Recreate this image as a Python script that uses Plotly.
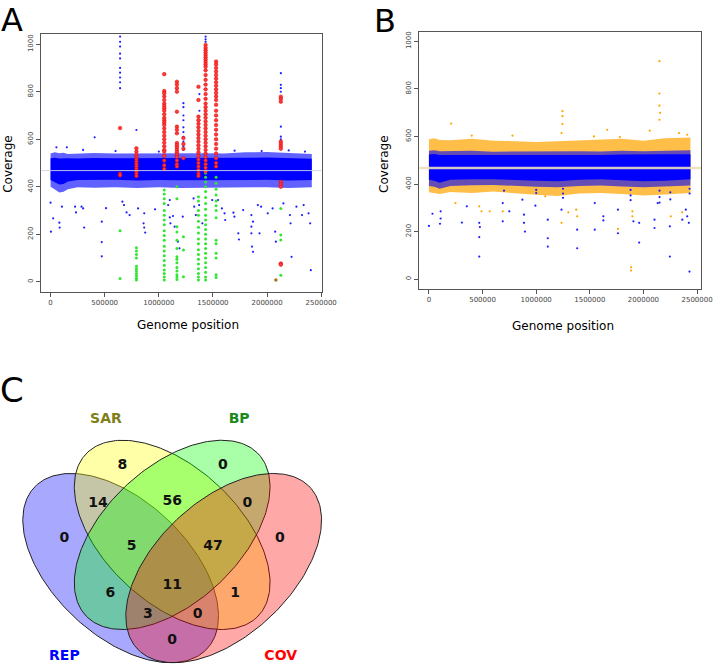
import numpy as np
import plotly.graph_objects as go

W, H = 728, 665

# ---------------- panel A : coverage, coloured by call ----------------
band_a_x = [0, 40000, 80000, 120000, 160000, 250000, 400000, 600000, 800000, 1000000,
            1200000, 1400000, 1600000, 1800000, 2000000, 2200000, 2413000]
band_a_top_outer = [540, 545, 541, 543, 538, 540, 542, 540, 541, 540, 542, 541, 540, 545, 546, 542, 538]
band_a_bot_outer = [400, 388, 376, 379, 390, 398, 396, 398, 395, 398, 395, 396, 398, 397, 398, 395, 398]
band_a_top_inner = [520, 522, 519, 521, 520, 519, 521, 520, 520, 519, 521, 520, 519, 522, 523, 520, 518]
band_a_bot_inner = [428, 420, 410, 412, 422, 428, 427, 429, 426, 428, 427, 427, 428, 428, 429, 426, 428]
mean_a = 468

blue_a_x = [0, 24000, 81000, 84000, 3000, 105000, 226000, 235000, 286000, 301000, 310000,
            473000, 473000, 473000, 512000, 663000, 678000, 702000, 730000, 808000, 859000,
            865000, 874000, 865000, 965000, 1101000, 1086000, 1101000, 1107000, 1146000,
            1131000, 1176000, 1191000, 1221000, 1321000, 1327000, 1342000, 1372000, 1402000,
            1493000, 1547000, 1583000, 1607000, 1613000, 1689000, 1698000, 1734000, 1740000,
            1779000, 1855000, 1870000, 1855000, 1855000, 1861000, 1870000, 1915000, 1930000,
            1945000, 2006000, 2051000, 2075000, 2081000, 2151000, 2211000, 2217000, 2226000,
            2271000, 2338000, 2383000, 2398000, 2404000, 2323000,
            407000, 54000, 150000, 793000, 300000, 600000, 1000000, 1700000, 1950000, 2200000,
            2350000, 1375000, 1375000, 1375000, 1432000, 1432000, 1432000, 1529000]
blue_a_y = [333, 267, 249, 228, 211, 316, 316, 292, 316, 309, 228,
            253, 167, 107, 310, 337, 323, 292, 281, 309, 246,
            228, 207, 288, 305, 344, 323, 271, 246, 232,
            277, 169, 141, 274, 351, 316, 281, 323, 246,
            344, 344, 309, 288, 260, 291, 274, 204, 178,
            302, 281, 253, 232, 204, 148, 126, 323, 204,
            316, 288, 309, 211, 169, 330, 281, 246, 105,
            316, 323, 288, 246, 49, 281,
            608, 566, 566, 639, 555, 550, 548, 552, 550, 553,
            548, 790, 720, 680, 1032, 1020, 1010, 925]

# vertical runs of points (one x, many coverages)
blue_col_a_x = [642000, 1227000, 2127000]
blue_col_a_y = [[1032, 1010, 990, 960, 940, 900, 880, 860, 840, 815],
                [752, 735, 700, 680, 650, 630, 610, 590, 570, 555],
                [878, 829, 815, 800, 653, 611, 600]]

red_col_x = [642000, 793000, 1050000, 1167000, 1227000, 1366000, 1432000, 1529000, 2127000]
red_col_y = [[647, 455, 448],
             [562, 548, 535, 525, 515, 505, 495, 485, 475, 465, 455, 445],
             [874, 803, 794, 780, 765, 750, 740, 730, 720, 705, 690, 680, 670, 660, 645, 630,
              615, 600, 585, 570, 555, 548, 530, 510, 490, 475],
             [842, 830, 815, 800, 716, 653, 640, 625, 584, 575, 565, 555, 545, 535, 525, 510, 495, 485],
             [605, 580, 560, 520],
             [821, 765, 695, 680, 665, 650, 635, 620, 605, 590, 575, 560, 545, 530, 515, 500, 485,
              470, 455, 445],
             [997, 985, 975, 965, 955, 945, 935, 925, 915, 905, 890, 870, 850, 830, 810, 790, 770,
              750, 735, 720, 705, 690, 675, 660, 645, 630, 615, 600, 585, 570, 555, 540, 525, 510,
              495, 480, 465],
             [927, 915, 900, 885, 870, 855, 840, 825, 810, 795, 780, 765, 745, 720, 700, 680, 660,
              640, 620, 600, 580, 560, 540, 520, 500, 485],
             [779, 770, 758, 590, 580, 570, 560, 420, 410, 400, 77, 72]]

green_col_x = [642000, 793000, 1050000, 1167000, 1227000, 1366000, 1432000, 1529000, 2127000]
green_col_y = [[215, 14],
               [143, 130, 115, 100, 65, 55, 45, 35, 25, 15, 8],
               [386, 370, 350, 330, 300, 280, 260, 240, 215, 195, 175, 150, 130, 110, 90, 70, 50, 35, 20, 8],
               [400, 350, 232, 210, 175, 140, 105, 95, 80, 60, 45, 30, 20, 10],
               [190, 134, 21],
               [358, 340, 300, 280, 255, 230, 205, 180, 160, 135, 115, 95, 75, 55, 35, 20, 8],
               [480, 458, 440, 420, 400, 380, 355, 330, 305, 280, 260, 240, 220, 200, 180, 160, 140,
                120, 100, 80, 60, 40, 20, 8],
               [440, 415, 390, 365, 340, 320, 300, 270, 175, 160, 120, 100, 30, 18],
               [309, 197, 176, 28]]

brown_a_x = [2081000]
brown_a_y = [7]

# ---------------- panel B : coverage, coloured by second call ----------------
band_b_x = [0, 50000, 100000, 200000, 400000, 600000, 800000, 1000000, 1200000, 1400000,
            1600000, 1800000, 2000000, 2200000, 2438000]
band_b_top_orange = [588, 592, 585, 584, 590, 582, 580, 576, 580, 584, 586, 590, 582, 592, 595]
band_b_bot_orange = [365, 362, 358, 366, 362, 368, 360, 355, 350, 360, 362, 358, 352, 356, 362]
band_b_top_outer = [540, 542, 538, 538, 540, 536, 537, 535, 536, 538, 537, 540, 538, 541, 542]
band_b_bot_outer = [392, 388, 380, 392, 395, 396, 392, 388, 386, 392, 394, 390, 386, 388, 394]
band_b_top_inner = [524, 526, 522, 522, 523, 521, 522, 520, 521, 522, 522, 524, 523, 525, 525]
band_b_bot_inner = [418, 414, 405, 418, 420, 420, 418, 414, 412, 418, 420, 416, 412, 414, 420]
mean_b = 467

blue_b_x = [0, 33000, 103000, 109000, 109000, 307000, 353000, 469000, 475000, 469000, 469000,
            688000, 688000, 749000, 871000, 886000, 886000, 895000, 992000, 1108000, 1108000,
            1108000, 1236000, 1382000, 1382000, 1546000, 1546000, 1626000, 1626000, 1762000,
            1762000, 1906000, 1960000, 1960000, 2103000, 2103000, 2133000, 2246000, 2246000,
            2362000, 2408000, 2423000, 2429000, 2395000,
            1250000, 1250000, 1250000, 1880000, 1880000, 1880000, 2150000, 2150000, 2150000,
            2250000, 2250000, 1000000, 1000000, 700000, 2430000, 2430000]
blue_b_y = [224, 275, 233, 255, 285, 238, 306, 237, 219, 177, 95,
            320, 243, 285, 334, 271, 237, 200, 309, 250, 172,
            137, 292, 208, 130, 320, 208, 264, 247, 193,
            292, 243, 154, 237, 215, 250, 320, 222, 95,
            250, 264, 237, 32, 292,
            380, 360, 342, 375, 352, 332, 372, 345, 322, 365, 335, 375, 362, 372, 380, 360]

orange_b_x = [207000, 1245000, 1245000, 1245000, 1236000, 2149000, 2149000, 2149000, 2155000,
              2149000, 2058000, 1884000, 1884000,
              490000, 469000, 688000, 1084000, 1236000, 1382000, 1373000, 1762000, 1897000,
              1897000, 2255000, 2362000, 247000, 566000, 1300000,
              1662000, 1538000, 779000, 399000, 2408000, 2331000, 1780000]
orange_b_y = [654, 706, 685, 652, 614, 916, 780, 729, 699, 670, 624, 36, 50,
              285, 306, 285, 348, 237, 264, 292, 211, 285, 264, 264, 281, 320, 285, 281,
              628, 600, 603, 603, 607, 614, 597]

# ---------------- panel C : Venn diagram of the four calls ----------------
venn_sets = ["REP", "SAR", "BP", "COV"]
venn_set_colours = ["#0000ff", "#7f7f1a", "#1a8a1a", "#ff0000"]
venn_counts = [8, 0, 14, 56, 0, 0, 5, 47, 0, 6, 11, 1, 3, 0, 0]

# layout / geometry (not data)
ell_centres = [(0.35, 0.47), (0.50, 0.57), (0.50, 0.57), (0.65, 0.47)]
ell_angles = [-45, -45, 45, 45]
ell_fill = ["rgba(0,0,255,0.34)", "rgba(255,255,0,0.34)", "rgba(0,255,0,0.34)", "rgba(255,0,0,0.34)"]
count_pos = [(0.355, 0.778), (0.648, 0.778), (0.284, 0.665), (0.500, 0.670), (0.719, 0.665),
             (0.186, 0.560), (0.382, 0.534), (0.619, 0.534), (0.814, 0.560), (0.320, 0.394),
             (0.500, 0.419), (0.683, 0.394), (0.429, 0.329), (0.574, 0.329), (0.500, 0.253)]
label_pos = [(0.186, 0.205), (0.307, 0.918), (0.695, 0.918), (0.816, 0.205)]


def paper(px, py):
    return px / W, 1 - py / H


def col_points(xs, ys):
    ox, oy = [], []
    for x, col in zip(xs, ys):
        ox += [x] * len(col)
        oy += col
    return ox, oy


def band(fig, bx, top, bot, colour, xa, ya):
    fig.add_trace(go.Scatter(x=bx + bx[::-1], y=top + bot[::-1], fill="toself",
                             fillcolor=colour, line=dict(width=0), mode="lines",
                             hoverinfo="skip", xaxis=xa, yaxis=ya))


fig = go.Figure()

# A
band(fig, band_a_x, band_a_top_outer, band_a_bot_outer, "rgba(0,0,255,0.62)", "x", "y")
band(fig, band_a_x, band_a_top_inner, band_a_bot_inner, "rgb(0,0,255)", "x", "y")
fig.add_trace(go.Scatter(x=blue_a_x, y=blue_a_y, mode="markers", xaxis="x", yaxis="y",
                         marker=dict(color="#2020ff", size=2.2)))
bx, by = col_points(blue_col_a_x, blue_col_a_y)
fig.add_trace(go.Scatter(x=bx, y=by, mode="markers", xaxis="x", yaxis="y",
                         marker=dict(color="#2020ff", size=2.2)))
gx, gy = col_points(green_col_x, green_col_y)
fig.add_trace(go.Scatter(x=gx, y=gy, mode="markers", xaxis="x", yaxis="y",
                         marker=dict(color="#33e633", size=3)))
rx, ry = col_points(red_col_x, red_col_y)
fig.add_trace(go.Scatter(x=rx, y=ry, mode="markers", xaxis="x", yaxis="y",
                         marker=dict(color="#ff3838", size=3.6,
                                     line=dict(color="#e00000", width=0.5))))
fig.add_trace(go.Scatter(x=brown_a_x, y=brown_a_y, mode="markers", xaxis="x", yaxis="y",
                         marker=dict(color="#a07828", size=3.5)))

# B
band(fig, band_b_x, band_b_top_orange, band_b_bot_orange, "rgba(255,165,0,0.72)", "x2", "y2")
band(fig, band_b_x, band_b_top_outer, band_b_bot_outer, "rgba(0,0,255,0.6)", "x2", "y2")
band(fig, band_b_x, band_b_top_inner, band_b_bot_inner, "rgb(0,0,255)", "x2", "y2")
fig.add_trace(go.Scatter(x=orange_b_x, y=orange_b_y, mode="markers", xaxis="x2", yaxis="y2",
                         marker=dict(color="#ffa500", size=2.2)))
fig.add_trace(go.Scatter(x=blue_b_x, y=blue_b_y, mode="markers", xaxis="x2", yaxis="y2",
                         marker=dict(color="#2020ff", size=2.2)))

# C
t = np.linspace(0, 2 * np.pi, 240)
for (cx, cy), ang, fc in zip(ell_centres, ell_angles, ell_fill):
    c, s = np.cos(np.radians(ang)), np.sin(np.radians(ang))
    ex = cx + 0.35 * np.cos(t) * c - 0.20 * np.sin(t) * s
    ey = cy + 0.35 * np.cos(t) * s + 0.20 * np.sin(t) * c
    fig.add_trace(go.Scatter(x=ex, y=ey, fill="toself", fillcolor=fc, mode="lines",
                             line=dict(color="#222222", width=1), hoverinfo="skip",
                             xaxis="x3", yaxis="y3"))
fig.add_trace(go.Scatter(x=[p[0] for p in count_pos], y=[p[1] for p in count_pos],
                         text=[str(v) for v in venn_counts], mode="text", xaxis="x3", yaxis="y3",
                         textfont=dict(family="DejaVu Sans", size=14, color="#111111", weight="bold")))
fig.add_trace(go.Scatter(x=[p[0] for p in label_pos], y=[p[1] for p in label_pos],
                         text=venn_sets, mode="text", xaxis="x3", yaxis="y3",
                         textfont=dict(family="DejaVu Sans", size=14, color=venn_set_colours,
                                       weight="bold")))

x_ticks = [0, 500000, 1000000, 1500000, 2000000, 2500000]
y_ticks = [0, 200, 400, 600, 800, 1000]
tickfont = dict(family="DejaVu Sans", size=7, color="#444444")
common_x = dict(tickvals=x_ticks, ticktext=[str(v) for v in x_ticks], ticks="outside", ticklen=4,
                tickcolor="#555555", showline=True, linecolor="#555555", mirror=True,
                showgrid=False, zeroline=False, tickfont=tickfont)
common_y = dict(tickvals=y_ticks, ticktext=[str(v) for v in y_ticks], ticks="outside", ticklen=4,
                tickcolor="#555555", showline=True, linecolor="#555555", mirror=True,
                showgrid=False, zeroline=False, tickfont=tickfont, tickangle=-90)

x0, y0 = paper(41.7, 292)
x1, y1 = paper(328.3, 34)
bx0, by0 = paper(428, 288.7)
bx1, by1 = paper(715.7, 31.7)

fig.update_layout(
    width=W, height=H, margin=dict(l=0, r=0, t=0, b=0),
    paper_bgcolor="white", plot_bgcolor="white", showlegend=False,
    font=dict(family="DejaVu Sans"),
    xaxis=dict(domain=[x0, x1], range=[-90000, 2503000], anchor="y", **common_x),
    yaxis=dict(domain=[y0, y1], range=[-43, 1043], anchor="x", **common_y),
    xaxis2=dict(domain=[bx0, bx1], range=[-91000, 2536000], anchor="y2", **common_x),
    yaxis2=dict(domain=[by0, by1], range=[-40, 1040], anchor="x2", **common_y),
    xaxis3=dict(domain=[0, 0.5], range=[-0.0014, 1.0368], visible=False, anchor="y3"),
    yaxis3=dict(domain=[0, 325 / 665], range=[0.1781, 1.157], visible=False, anchor="x3"),
)

fig.add_shape(type="line", xref="x domain", yref="y", x0=0, x1=1, y0=mean_a, y1=mean_a,
              line=dict(color="rgba(205,212,235,0.9)", width=1), layer="above")
fig.add_shape(type="line", xref="x2 domain", yref="y2", x0=0, x1=1, y0=mean_b, y1=mean_b,
              line=dict(color="rgba(236,222,190,0.9)", width=2.5), layer="above")

notes = [("A", 12, 20, 32, 0), ("B", 393.5, 20.5, 32, 0), ("C", 12, 390, 34, 0),
         ("Coverage", 8, 164, 12, -90), ("Coverage", 392, 164, 12, -90),
         ("Genome position", 192, 325, 12, 0), ("Genome position", 575, 326, 12, 0)]
for txt, px, py, size, ang in notes:
    ax, ay = paper(px, py)
    fig.add_annotation(text=txt, x=ax, y=ay, xref="paper", yref="paper", showarrow=False,
                       xanchor="center", yanchor="middle", textangle=ang, borderpad=0,
                       font=dict(family="DejaVu Sans", size=size, color="#000000"))

# the page's default body margin would push the figure 8px down and right
fig.write_html("out.html", config={"displayModeBar": False},
               post_script="document.body.style.margin='0';")
